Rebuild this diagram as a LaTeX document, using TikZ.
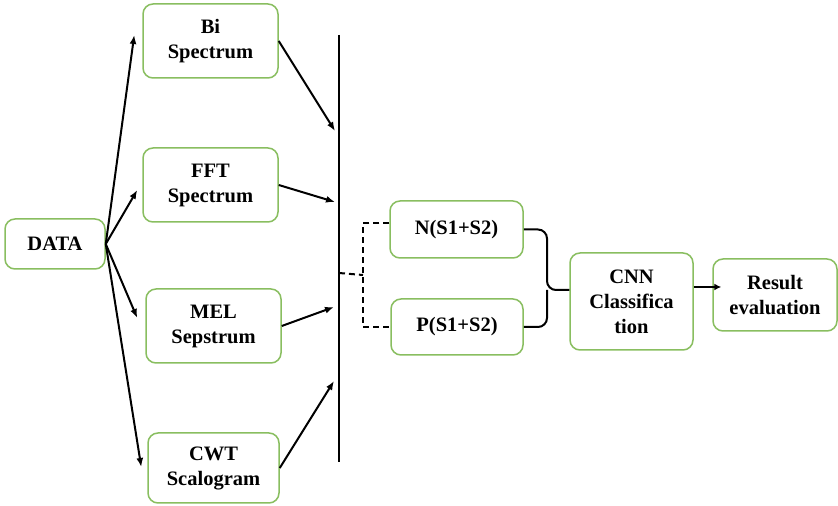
\documentclass[tikz,border=0pt]{standalone}
\usepackage{fontspec}
\setmainfont{Liberation Serif}
\usetikzlibrary{arrows.meta}
\definecolor{boxgreen}{RGB}{137,190,96}
\begin{document}
\begin{tikzpicture}[x=1pt, y=1pt,
        stage/.style={draw=boxgreen, line width=1.5pt, rounded corners=10pt, fill=white,
            align=center, inner sep=2pt, font=\fontsize{20.5}{25}\selectfont\bfseries},
        feed/.style={line width=2pt, -{Latex[length=9pt,width=7pt]}}]
                    \useasboundingbox (0,0) rectangle (838,506);

                    \node[stage, minimum width=100pt, minimum height=50pt] (data) at (55,262) {DATA};
                    \node[stage, minimum width=135pt, minimum height=74pt] (bispec) at (210.5,465) {Bi\\Spectrum};
                    \node[stage, minimum width=135pt, minimum height=74pt] (fft) at (210.5,321) {FFT\\Spectrum};
                    \node[stage, minimum width=135pt, minimum height=74pt] (mel) at (213.5,180) {MEL\\Sepstrum};
                    \node[stage, minimum width=131pt, minimum height=70pt] (cwt) at (213.5,38) {CWT\\Scalogram};

                    \draw[feed] (data.east) -- ([shift={(-8,6)}]bispec.west);
                    \draw[feed] (data.east) -- ([shift={(-5,-5)}]fft.west);
                    \draw[feed] (data.east) -- ([shift={(-8,8)}]mel.west);
                    \draw[feed] (data.east) -- ([shift={(-6,1)}]cwt.west);

                    \coordinate (bartop) at (339,471);
                    \coordinate (barbot) at (339,44);
                    \draw[line width=2pt] (bartop) -- (barbot);

                    \coordinate (hit1) at (335,375);
                    \coordinate (hit2) at (335,304);
                    \coordinate (hit3) at (334,199);
                    \coordinate (hit4) at (334,125);
                    \draw[feed] (bispec.east) -- (hit1);
                    \draw[feed] (fft.east) -- (hit2);
                    \draw[feed] (mel.east) -- (hit3);
                    \draw[feed] (cwt.east) -- (hit4);

                    \node[stage, minimum width=133pt, minimum height=57pt] (nsum) at (456.5,276.5) {N(S1+S2)};
                    \node[stage, minimum width=132pt, minimum height=56pt] (psum) at (457,179) {P(S1+S2)};

                    \coordinate (junc) at (339,233);
                    \coordinate (split) at (363,231);
                    \draw[line width=2pt, dash pattern=on 6pt off 4pt] (junc) -- (split);
                    \draw[line width=2pt, dash pattern=on 6pt off 4pt] ([yshift=6pt]nsum.west) -| (split) |- (psum.west);

                    \node[stage, minimum width=123pt, minimum height=97pt] (cnn) at (631.5,204.5) {CNN\\Classifica\\tion};
                    \node[stage, minimum width=124pt, minimum height=72pt] (result) at (775,211) {Result\\evaluation};

                    \coordinate (brace) at (547,216);
                    \draw[line width=2pt, rounded corners=9pt] (nsum.east) -| (brace) -- (cnn.west |- brace);
                    \draw[line width=2pt, rounded corners=9pt] (psum.east) -| (brace);

                    \draw[line width=2.8pt, -{Latex[length=7pt,width=7pt]}] ([yshift=14.5pt]cnn.east) -- ([shift={(9,8)}]result.west);
                \end{tikzpicture}
\end{document}
